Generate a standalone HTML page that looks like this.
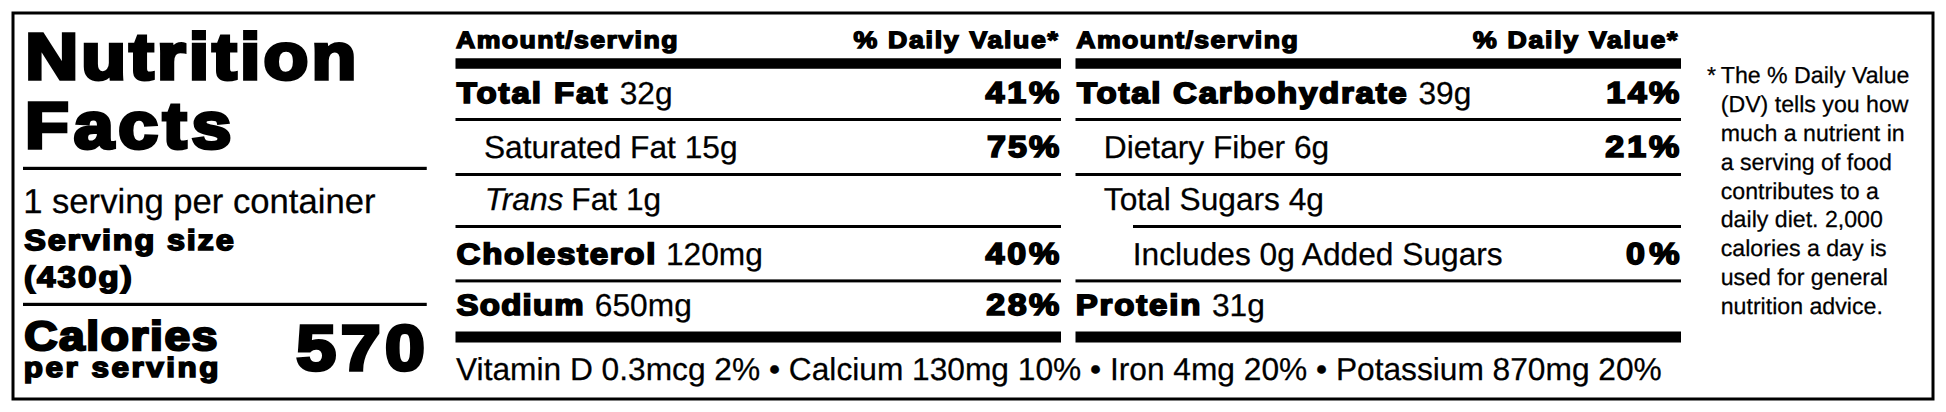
<!DOCTYPE html>
<html lang="en"><head><meta charset="utf-8"><title>Nutrition Facts</title>
<style>
html,body{margin:0;padding:0;background:#fff;}
body{width:1946px;height:412px;overflow:hidden;font-family:"Liberation Sans",Arial,Helvetica,sans-serif;}
svg{display:block;}
text{fill:#000;white-space:pre;}
</style></head><body>
<svg width="1946" height="412" viewBox="0 0 1946 412">
<rect x="0" y="0" width="1946" height="412" fill="#fff"/>
<rect x="13" y="13" width="1920" height="386" fill="none" stroke="#000" stroke-width="3"/>
<rect x="23" y="166.8" width="403.75" height="3.2" fill="#000"/>
<rect x="23" y="302.8" width="403.75" height="3.2" fill="#000"/>
<rect x="455.5" y="58.25" width="605.5" height="10.5" fill="#000"/>
<rect x="455.5" y="331.5" width="605.5" height="11.0" fill="#000"/>
<rect x="1075.5" y="58.25" width="605.5" height="10.5" fill="#000"/>
<rect x="1075.5" y="331.5" width="605.5" height="11.0" fill="#000"/>
<rect x="455.5" y="118" width="605.5" height="3" fill="#000"/>
<rect x="455.5" y="173" width="605.5" height="3" fill="#000"/>
<rect x="455.5" y="225" width="605.5" height="3" fill="#000"/>
<rect x="455.5" y="279.4" width="605.5" height="3.0" fill="#000"/>
<rect x="1075.5" y="118" width="605.5" height="3" fill="#000"/>
<rect x="1075.5" y="173" width="605.5" height="3" fill="#000"/>
<rect x="1075.5" y="279.4" width="605.5" height="3.0" fill="#000"/>
<rect x="1133" y="225" width="548" height="3" fill="#000"/>
<text transform="translate(25.13 78.93) scale(1.125 1)" font-family="Liberation Sans, Arial, Helvetica, sans-serif" text-rendering="geometricPrecision" font-weight="700" font-size="65.24" stroke="#000" stroke-width="3.64" stroke-linejoin="miter"  letter-spacing="2.841">Nutrition</text>
<text transform="translate(25.09 147.68) scale(1.1 1)" font-family="Liberation Sans, Arial, Helvetica, sans-serif" text-rendering="geometricPrecision" font-weight="700" font-size="65.24" stroke="#000" stroke-width="3.64" stroke-linejoin="miter"  letter-spacing="4.283">Facts</text>
<text transform="translate(24.29 249.95) scale(1.125 1)" font-family="Liberation Sans, Arial, Helvetica, sans-serif" text-rendering="geometricPrecision" font-weight="700" font-size="28.83" stroke="#000" stroke-width="1.7" stroke-linejoin="miter"  letter-spacing="1.628">Serving size</text>
<text transform="translate(23.88 287.15) scale(1.125 1)" font-family="Liberation Sans, Arial, Helvetica, sans-serif" text-rendering="geometricPrecision" font-weight="700" font-size="29.42" stroke="#000" stroke-width="1.7" stroke-linejoin="miter"  letter-spacing="1.866">(430g)</text>
<text transform="translate(24.13 350.22) scale(1.125 1)" font-family="Liberation Sans, Arial, Helvetica, sans-serif" text-rendering="geometricPrecision" font-weight="700" font-size="41.0" stroke="#000" stroke-width="2.35" stroke-linejoin="miter"  letter-spacing="1.424">Calories</text>
<text transform="translate(23.85 376.65) scale(1.125 1)" font-family="Liberation Sans, Arial, Helvetica, sans-serif" text-rendering="geometricPrecision" font-weight="700" font-size="27.94" stroke="#000" stroke-width="1.7" stroke-linejoin="miter"  letter-spacing="2.243">per serving</text>
<text transform="translate(296.24 369.56) scale(1.12 1)" font-family="Liberation Sans, Arial, Helvetica, sans-serif" text-rendering="geometricPrecision" font-weight="700" font-size="63.96" stroke="#000" stroke-width="3.47" stroke-linejoin="miter"  letter-spacing="4.099">570</text>
<text transform="translate(456.0 48.03) scale(1.125 1)" font-family="Liberation Sans, Arial, Helvetica, sans-serif" text-rendering="geometricPrecision" font-weight="700" font-size="23.71" stroke="#000" stroke-width="1.43" stroke-linejoin="miter"  letter-spacing="1.263">Amount/serving</text>
<text transform="translate(853.6 48.03) scale(1.125 1)" font-family="Liberation Sans, Arial, Helvetica, sans-serif" text-rendering="geometricPrecision" font-weight="700" font-size="23.71" stroke="#000" stroke-width="1.43" stroke-linejoin="miter"  letter-spacing="1.509">% Daily Value*</text>
<text transform="translate(1076.25 48.03) scale(1.125 1)" font-family="Liberation Sans, Arial, Helvetica, sans-serif" text-rendering="geometricPrecision" font-weight="700" font-size="23.71" stroke="#000" stroke-width="1.43" stroke-linejoin="miter"  letter-spacing="1.263">Amount/serving</text>
<text transform="translate(1473.1 48.03) scale(1.125 1)" font-family="Liberation Sans, Arial, Helvetica, sans-serif" text-rendering="geometricPrecision" font-weight="700" font-size="23.71" stroke="#000" stroke-width="1.43" stroke-linejoin="miter"  letter-spacing="1.509">% Daily Value*</text>
<text transform="translate(456.85 102.89) scale(1.125 1)" font-family="Liberation Sans, Arial, Helvetica, sans-serif" text-rendering="geometricPrecision" font-weight="700" font-size="29.35" stroke="#000" stroke-width="1.73" stroke-linejoin="miter"  letter-spacing="1.703">Total Fat</text>
<text transform="translate(456.57 263.63) scale(1.125 1)" font-family="Liberation Sans, Arial, Helvetica, sans-serif" text-rendering="geometricPrecision" font-weight="700" font-size="29.35" stroke="#000" stroke-width="1.73" stroke-linejoin="miter"  letter-spacing="1.53">Cholesterol</text>
<text transform="translate(456.61 315.38) scale(1.125 1)" font-family="Liberation Sans, Arial, Helvetica, sans-serif" text-rendering="geometricPrecision" font-weight="700" font-size="29.35" stroke="#000" stroke-width="1.73" stroke-linejoin="miter"  letter-spacing="1.056">Sodium</text>
<text transform="translate(1077.1 102.89) scale(1.125 1)" font-family="Liberation Sans, Arial, Helvetica, sans-serif" text-rendering="geometricPrecision" font-weight="700" font-size="29.35" stroke="#000" stroke-width="1.73" stroke-linejoin="miter"  letter-spacing="1.538">Total Carbohydrate</text>
<text transform="translate(1075.74 315.38) scale(1.125 1)" font-family="Liberation Sans, Arial, Helvetica, sans-serif" text-rendering="geometricPrecision" font-weight="700" font-size="29.35" stroke="#000" stroke-width="1.73" stroke-linejoin="miter"  letter-spacing="1.631">Protein</text>
<text transform="translate(985.46 102.89) scale(1.125 1)" font-family="Liberation Sans, Arial, Helvetica, sans-serif" text-rendering="geometricPrecision" font-weight="700" font-size="30.25" stroke="#000" stroke-width="1.73" stroke-linejoin="miter"  letter-spacing="2.576">41%</text>
<text transform="translate(987.0 156.88) scale(1.125 1)" font-family="Liberation Sans, Arial, Helvetica, sans-serif" text-rendering="geometricPrecision" font-weight="700" font-size="30.25" stroke="#000" stroke-width="1.73" stroke-linejoin="miter"  letter-spacing="1.89">75%</text>
<text transform="translate(985.46 263.63) scale(1.125 1)" font-family="Liberation Sans, Arial, Helvetica, sans-serif" text-rendering="geometricPrecision" font-weight="700" font-size="30.25" stroke="#000" stroke-width="1.73" stroke-linejoin="miter"  letter-spacing="2.576">40%</text>
<text transform="translate(986.27 315.38) scale(1.125 1)" font-family="Liberation Sans, Arial, Helvetica, sans-serif" text-rendering="geometricPrecision" font-weight="700" font-size="30.25" stroke="#000" stroke-width="1.73" stroke-linejoin="miter"  letter-spacing="2.214">28%</text>
<text transform="translate(1606.32 102.89) scale(1.125 1)" font-family="Liberation Sans, Arial, Helvetica, sans-serif" text-rendering="geometricPrecision" font-weight="700" font-size="30.25" stroke="#000" stroke-width="1.73" stroke-linejoin="miter"  letter-spacing="2.195">14%</text>
<text transform="translate(1605.28 156.88) scale(1.125 1)" font-family="Liberation Sans, Arial, Helvetica, sans-serif" text-rendering="geometricPrecision" font-weight="700" font-size="30.25" stroke="#000" stroke-width="1.73" stroke-linejoin="miter"  letter-spacing="2.659">21%</text>
<text transform="translate(1626.08 263.63) scale(1.125 1)" font-family="Liberation Sans, Arial, Helvetica, sans-serif" text-rendering="geometricPrecision" font-weight="700" font-size="30.25" stroke="#000" stroke-width="1.73" stroke-linejoin="miter"  letter-spacing="3.821">0%</text>
<text transform="translate(23.13 212.5) scale(1 1)" font-family="Liberation Sans, Arial, Helvetica, sans-serif" text-rendering="geometricPrecision" font-size="34.65" stroke="#000" stroke-width="0.25" >1 serving per container</text>
<text transform="translate(619.65 103.75) scale(1 1)" font-family="Liberation Sans, Arial, Helvetica, sans-serif" text-rendering="geometricPrecision" font-size="31.7" stroke="#000" stroke-width="0.25" >32g</text>
<text transform="translate(483.9 157.75) scale(1 1)" font-family="Liberation Sans, Arial, Helvetica, sans-serif" text-rendering="geometricPrecision" font-size="31.7" stroke="#000" stroke-width="0.25" >Saturated Fat 15g</text>
<text transform="translate(484.7 209.7) scale(1 1)" font-family="Liberation Sans, Arial, Helvetica, sans-serif" text-rendering="geometricPrecision" font-size="31.7" stroke="#000" stroke-width="0.25" ><tspan font-style="italic">Trans</tspan><tspan dx="-0.8"> Fat 1g</tspan></text>
<text transform="translate(665.95 264.5) scale(1 1)" font-family="Liberation Sans, Arial, Helvetica, sans-serif" text-rendering="geometricPrecision" font-size="31.7" stroke="#000" stroke-width="0.25" >120mg</text>
<text transform="translate(594.86 316.25) scale(1 1)" font-family="Liberation Sans, Arial, Helvetica, sans-serif" text-rendering="geometricPrecision" font-size="31.7" stroke="#000" stroke-width="0.25" >650mg</text>
<text transform="translate(1418.4 103.75) scale(1 1)" font-family="Liberation Sans, Arial, Helvetica, sans-serif" text-rendering="geometricPrecision" font-size="31.7" stroke="#000" stroke-width="0.25" >39g</text>
<text transform="translate(1103.8 157.75) scale(1 1)" font-family="Liberation Sans, Arial, Helvetica, sans-serif" text-rendering="geometricPrecision" font-size="31.7" stroke="#000" stroke-width="0.25" >Dietary Fiber 6g</text>
<text transform="translate(1103.8 209.7) scale(1 1)" font-family="Liberation Sans, Arial, Helvetica, sans-serif" text-rendering="geometricPrecision" font-size="31.7" stroke="#000" stroke-width="0.25" >Total Sugars 4g</text>
<text transform="translate(1132.7 264.5) scale(1 1)" font-family="Liberation Sans, Arial, Helvetica, sans-serif" text-rendering="geometricPrecision" font-size="31.7" stroke="#000" stroke-width="0.25" >Includes 0g Added Sugars</text>
<text transform="translate(1211.9 316.25) scale(1 1)" font-family="Liberation Sans, Arial, Helvetica, sans-serif" text-rendering="geometricPrecision" font-size="31.7" stroke="#000" stroke-width="0.25" >31g</text>
<text transform="translate(456.04 379.5) scale(1 1)" font-family="Liberation Sans, Arial, Helvetica, sans-serif" text-rendering="geometricPrecision" font-size="31.7" stroke="#000" stroke-width="0.25" >Vitamin D 0.3mcg 2% • Calcium 130mg 10% • Iron 4mg 20% • Potassium 870mg 20%</text>
<text transform="translate(1707.0 83) scale(1 1)" font-family="Liberation Sans, Arial, Helvetica, sans-serif" text-rendering="geometricPrecision" font-size="23.15" stroke="#000" stroke-width="0.25" >*</text>
<text transform="translate(1720.75 83) scale(1 1)" font-family="Liberation Sans, Arial, Helvetica, sans-serif" text-rendering="geometricPrecision" font-size="23.15" stroke="#000" stroke-width="0.25" >The % Daily Value</text>
<text transform="translate(1720.75 111.9) scale(1 1)" font-family="Liberation Sans, Arial, Helvetica, sans-serif" text-rendering="geometricPrecision" font-size="23.15" stroke="#000" stroke-width="0.25" >(DV) tells you how</text>
<text transform="translate(1720.75 140.75) scale(1 1)" font-family="Liberation Sans, Arial, Helvetica, sans-serif" text-rendering="geometricPrecision" font-size="23.15" stroke="#000" stroke-width="0.25" >much a nutrient in</text>
<text transform="translate(1720.75 169.6) scale(1 1)" font-family="Liberation Sans, Arial, Helvetica, sans-serif" text-rendering="geometricPrecision" font-size="23.15" stroke="#000" stroke-width="0.25" >a serving of food</text>
<text transform="translate(1720.75 198.5) scale(1 1)" font-family="Liberation Sans, Arial, Helvetica, sans-serif" text-rendering="geometricPrecision" font-size="23.15" stroke="#000" stroke-width="0.25" >contributes to a</text>
<text transform="translate(1720.75 227.4) scale(1 1)" font-family="Liberation Sans, Arial, Helvetica, sans-serif" text-rendering="geometricPrecision" font-size="23.15" stroke="#000" stroke-width="0.25" >daily diet. 2,000</text>
<text transform="translate(1720.75 256.25) scale(1 1)" font-family="Liberation Sans, Arial, Helvetica, sans-serif" text-rendering="geometricPrecision" font-size="23.15" stroke="#000" stroke-width="0.25" >calories a day is</text>
<text transform="translate(1720.75 285.1) scale(1 1)" font-family="Liberation Sans, Arial, Helvetica, sans-serif" text-rendering="geometricPrecision" font-size="23.15" stroke="#000" stroke-width="0.25" >used for general</text>
<text transform="translate(1720.75 314) scale(1 1)" font-family="Liberation Sans, Arial, Helvetica, sans-serif" text-rendering="geometricPrecision" font-size="23.15" stroke="#000" stroke-width="0.25" >nutrition advice.</text>
</svg>
</body></html>
